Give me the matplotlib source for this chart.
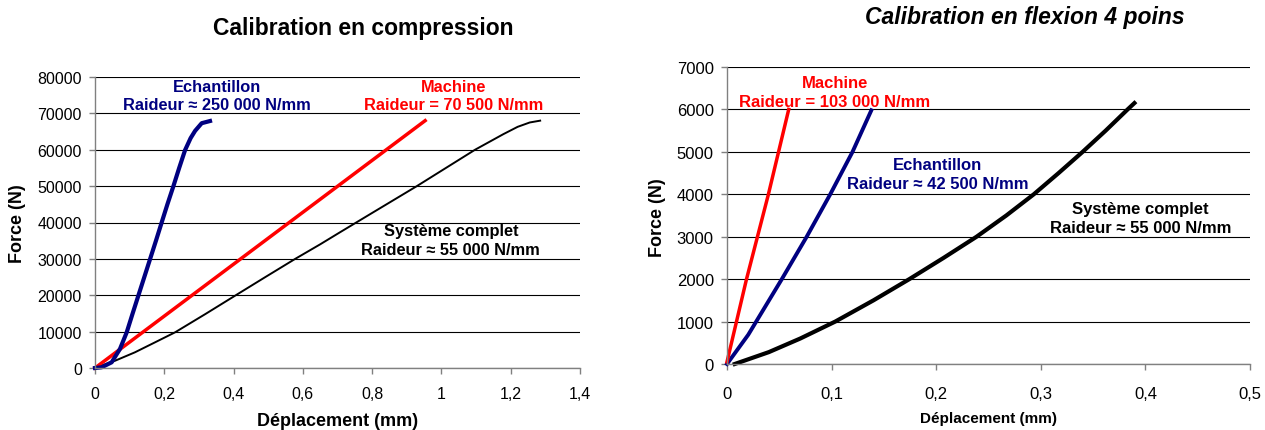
import matplotlib
matplotlib.use("Agg")
import matplotlib.pyplot as plt

plt.rcParams['font.family'] = ['Liberation Sans', 'DejaVu Sans']

# ---- données : compression ----
comp_ech_x = [0, 0.019, 0.048, 0.072, 0.0915, 0.108, 0.125, 0.142, 0.159, 0.176,
              0.1925, 0.209, 0.226, 0.243, 0.26, 0.276, 0.289, 0.308, 0.332]
comp_ech_y = [0, 190, 1560, 5220, 9800, 14800, 19860, 24900, 29950, 35000,
              40020, 45000, 49900, 55000, 59900, 63200, 65200, 67300, 67900]
comp_mach_x = [0, 0.953]
comp_mach_y = [0, 68000]
comp_sys_x = [0, 0.058, 0.115, 0.17, 0.231, 0.318, 0.404, 0.49, 0.577, 0.65, 0.707,
              0.803, 0.929, 1.013, 1.097, 1.179, 1.22, 1.255, 1.285]
comp_sys_y = [0, 2000, 4300, 6900, 9800, 14800, 19860, 24900, 29950, 34000, 37300,
              42800, 50000, 55000, 60000, 64300, 66300, 67500, 68000]

# ---- données : flexion 4 points ----
flex_mach_x = [0, 0.0186, 0.0395, 0.059]
flex_mach_y = [50, 1995, 3991, 6000]
flex_ech_x = [0, 0.0203, 0.0524, 0.0762, 0.0987, 0.12, 0.138]
flex_ech_y = [0, 689, 2000, 3000, 4000, 5000, 5980]
flex_sys_x = [0.0074, 0.04, 0.07, 0.1035, 0.14, 0.1743, 0.207, 0.2386, 0.267,
              0.2933, 0.317, 0.34, 0.362, 0.383, 0.3895]
flex_sys_y = [0, 280, 600, 1000, 1500, 2000, 2500, 3000, 3500,
              4000, 4500, 5000, 5500, 6000, 6150]

comp_xticks = [0, 0.2, 0.4, 0.6, 0.8, 1, 1.2, 1.4]
comp_xlabels = ['0', '0,2', '0,4', '0,6', '0,8', '1', '1,2', '1,4']
comp_yticks = list(range(0, 80001, 10000))
flex_xticks = [0, 0.1, 0.2, 0.3, 0.4, 0.5]
flex_xlabels = ['0', '0,1', '0,2', '0,3', '0,4', '0,5']
flex_yticks = list(range(0, 7001, 1000))

BLUE = '#000080'
RED = '#ff0000'
GREY = '#808080'

W, H = 1265, 431
fig = plt.figure(figsize=(W / 100, H / 100), dpi=100)

ax1 = fig.add_axes([95 / W, 1 - 369 / H, 485 / W, 291 / H])
ax2 = fig.add_axes([727 / W, 1 - 365 / H, 523 / W, 297 / H])


def style_axes(ax, xticks, xlabels, yticks, xmax, ymax, fs, xpad):
    ax.set_xlim(0, xmax)
    ax.set_ylim(0, ymax)
    ax.set_xticks(xticks)
    ax.set_xticklabels(xlabels)
    ax.set_yticks(yticks)
    for s in ['top', 'right']:
        ax.spines[s].set_visible(False)
    for s in ['left', 'bottom']:
        ax.spines[s].set_color(GREY)
        ax.spines[s].set_linewidth(1.0)
    ax.yaxis.grid(True, color='black', linewidth=0.8)
    ax.set_axisbelow(True)
    ax.tick_params(axis='x', direction='out', length=4.5, width=1, color=GREY,
                   labelsize=fs, pad=xpad)
    ax.tick_params(axis='y', direction='out', length=4, width=1, color=GREY,
                   labelsize=fs, pad=5.5)


style_axes(ax1, comp_xticks, comp_xlabels, comp_yticks, 1.4, 80000, 11.5, 8.5)
style_axes(ax2, flex_xticks, flex_xlabels, flex_yticks, 0.5, 7000, 12, 11)

# courbes compression
ax1.plot(comp_sys_x, comp_sys_y, color='black', linewidth=1.4, clip_on=False)
ax1.plot(comp_mach_x, comp_mach_y, color=RED, linewidth=2.5, clip_on=False)
ax1.plot(comp_ech_x, comp_ech_y, color=BLUE, linewidth=3, clip_on=False)

# courbes flexion
ax2.plot(flex_sys_x, flex_sys_y, color='black', linewidth=3, clip_on=False)
ax2.plot(flex_ech_x, flex_ech_y, color=BLUE, linewidth=2.8, clip_on=False)
ax2.plot(flex_mach_x, flex_mach_y, color=RED, linewidth=2.5, clip_on=False)

# annotations
ann = dict(ha='center', va='center', fontweight='bold', linespacing=1.3)
ax1.text(0.352, 74900, 'Echantillon\nRaideur ≈ 250 000 N/mm', color=BLUE, fontsize=11.8, **ann)
ax1.text(1.035, 74900, 'Machine\nRaideur = 70 500 N/mm', color=RED, fontsize=11.8, **ann)
ax1.text(1.027, 35240, 'Système complet\nRaideur ≈ 55 000 N/mm', color='black', fontsize=11.8, **ann)

ax2.text(0.1033, 6411, 'Machine\nRaideur = 103 000 N/mm', color=RED, fontsize=12, **ann)
ax2.text(0.2017, 4485, 'Echantillon\nRaideur ≈ 42 500 N/mm', color=BLUE, fontsize=12, **ann)
ax2.text(0.3954, 3446, 'Système complet\nRaideur ≈ 55 000 N/mm', color='black', fontsize=12, **ann)

# titres et libellés d'axes
fig.text(363.6 / W, 1 - 28.3 / H, 'Calibration en compression', ha='center', va='center',
         fontsize=16.5, fontweight='bold')
fig.text(1025 / W, 1 - 17.3 / H, 'Calibration en flexion 4 poins', ha='center', va='center',
         fontsize=16.5, fontweight='bold', fontstyle='italic')

fig.text(337.5 / W, 1 - 421.7 / H, 'Déplacement (mm)', ha='center', va='center',
         fontsize=13, fontweight='bold')
fig.text(988.5 / W, 1 - 419 / H, 'Déplacement (mm)', ha='center', va='center',
         fontsize=11, fontweight='bold')

fig.text(17.4 / W, 1 - 224 / H, 'Force (N)', ha='center', va='center', rotation=90,
         fontsize=13, fontweight='bold')
fig.text(657 / W, 1 - 217.5 / H, 'Force (N)', ha='center', va='center', rotation=90,
         fontsize=13, fontweight='bold')

fig.savefig('out.png', dpi=100)
